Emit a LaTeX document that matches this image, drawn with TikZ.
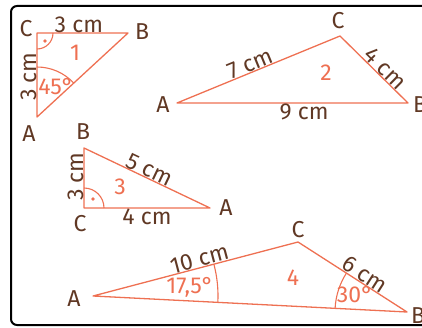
\documentclass[tikz,border=0pt]{standalone}
\usepackage{fontspec}
\setmainfont{Fira Sans}
\usetikzlibrary{angles}
\definecolor{tri}{RGB}{238,112,82}
\definecolor{txt}{RGB}{96,56,36}

\begin{document}
\begin{tikzpicture}[x=1pt, y=1pt, line join=round,
  side/.style={draw=tri, line width=1.3pt},
  lbl/.style={text=txt, font=\fontsize{23}{24}\selectfont, inner sep=1pt},
  num/.style={text=tri, font=\fontsize{23}{24}\selectfont, inner sep=1pt},
  len/.style={lbl, sloped, inner sep=0.5pt},
  arcline/.style={draw=tri, line width=1.1pt}]
\useasboundingbox (0,0) rectangle (422,327);
\clip (0,0) rectangle (422,327);
\draw[rounded corners=6pt, line width=2pt] (11,2) rectangle (450,321);

% triangle 1
\coordinate (a1) at (37,210);
\coordinate (c1) at (37,294);
\coordinate (b1) at (128,294);
\draw[side] (a1) -- (c1) -- (b1) -- cycle;
\pic[arcline, angle radius=16pt] {angle = a1--c1--b1};
\pic[arcline, angle radius=50pt] {angle = b1--a1--c1};
\coordinate (d1) at (45,286);
\fill[tri] (d1) circle (1.8pt);
\node[lbl] (ta1) at (29,193) {A};
\node[lbl] (tc1) at (26,298) {C};
\node[lbl] (tb1) at (142,295) {B};
\path (c1) -- (b1) node[len, pos=0.46, above] (cb1) {3 cm};
\path (a1) -- (c1) node[len, pos=0.48, above] (ca1) {3 cm};
\node[num] (n1) at (75,274) {1};
\node[num] (w1) at (56,240) {45°};

% triangle 2
\coordinate (a2) at (177,224);
\coordinate (c2) at (340,291);
\coordinate (b2) at (408,224);
\draw[side] (a2) -- (c2) -- (b2) -- cycle;
\node[lbl] (ta2) at (163,222) {A};
\node[lbl] (tc2) at (338,306) {C};
\node[lbl] (tb2) at (420,222) {B};
\path (a2) -- (c2) node[len, pos=0.47, above] (ac2) {7 cm};
\path (c2) -- (b2) node[len, pos=0.58, above] (cb2) {4 cm};
\path (a2) -- (b2) node[len, pos=0.55, below] (ab2) {9 cm};
\node[num] (n2) at (326,254) {2};

% triangle 3
\coordinate (b3) at (84,179);
\coordinate (c3) at (84,119);
\coordinate (a3) at (210,119);
\draw[side] (b3) -- (c3) -- (a3) -- cycle;
\pic[arcline, angle radius=20pt] {angle = a3--c3--b3};
\coordinate (d3) at (93,128);
\fill[tri] (d3) circle (1.8pt);
\node[lbl] (tb3) at (83,195) {B};
\node[lbl] (tc3) at (80,103) {C};
\node[lbl] (ta3) at (226,119) {A};
\path (c3) -- (b3) node[len, pos=0.52, above] (bc3) {3 cm};
\path (b3) -- (a3) node[len, pos=0.49, above] (ba3) {5 cm};
\path (c3) -- (a3) node[len, pos=0.5, below] (ca3) {4 cm};
\node[num] (n3) at (120,140) {3};

% triangle 4
\coordinate (a4) at (93,31);
\coordinate (c4) at (298,85);
\coordinate (b4) at (407,15);
\draw[side] (a4) -- (c4) -- (b4) -- cycle;
\pic[arcline, angle radius=125pt] {angle = b4--a4--c4};
\pic[arcline, angle radius=72pt] {angle = c4--b4--a4};
\node[lbl] (ta4) at (74,28) {A};
\node[lbl] (tc4) at (298,97) {C};
\node[lbl] (tb4) at (418,11) {B};
\path (a4) -- (c4) node[len, pos=0.53, above] (ac4) {10 cm};
\path (c4) -- (b4) node[len, pos=0.57, above] (cb4) {6 cm};
\node[num] (w4a) at (190,40) {17,5°};
\node[num] (w4b) at (355,32) {30°};
\node[num] (n4) at (293,49) {4};
\end{tikzpicture}
\end{document}
